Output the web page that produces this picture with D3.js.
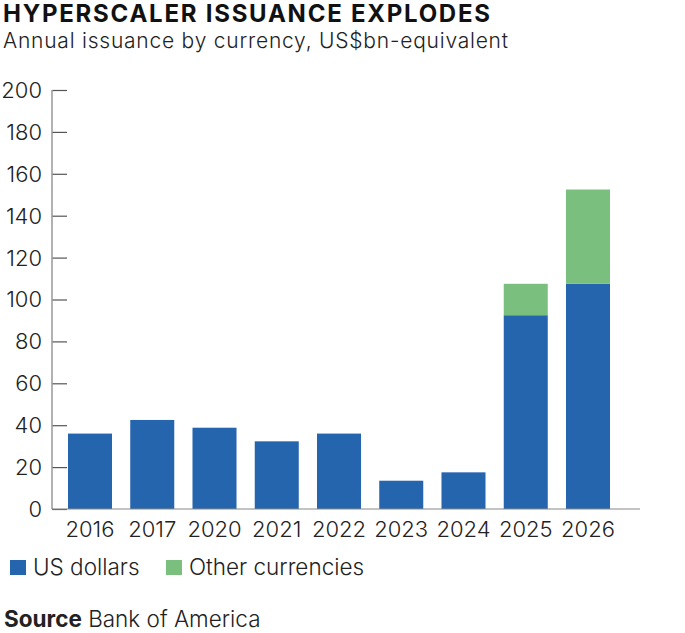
<!DOCTYPE html>
<html>
<head>
<meta charset="utf-8">
<script src="https://cdn.jsdelivr.net/npm/d3@7"></script>
<style>
  body { margin: 0; background: #fff; }
  svg { display: block; font-family: Inter, "Noto Sans", sans-serif; }
</style>
</head>
<body>
<svg id="chart"></svg>
<script>
// Data
const years = ['2016', '2017', '2020', '2021', '2022', '2023', '2024', '2025', '2026'];
const usDollars = [36, 42.5, 38.8, 32.3, 36, 13.5, 17.5, 92.5, 107.5];
const otherCurrencies = [0, 0, 0, 0, 0, 0, 0, 15, 45];
const yTicks = [0, 20, 40, 60, 80, 100, 120, 140, 160, 180, 200];
const seriesNames = ['US dollars', 'Other currencies'];

const width = 685, height = 633;
const colors = { 'US dollars': '#2565ae', 'Other currencies': '#7bbf7f' };

const svg = d3.select('#chart')
  .attr('width', width)
  .attr('height', height)
  .attr('viewBox', `0 0 ${width} ${height}`);

const rows = years.map((y, i) => ({
  year: y,
  'US dollars': usDollars[i],
  'Other currencies': otherCurrencies[i],
}));
const stacked = d3.stack().keys(seriesNames)(rows);

const axisX = 52, baseY = 509, topY = 90;

const x = d3.scaleBand()
  .domain(years)
  .range([axisX, 626])
  .paddingInner(0.293)
  .paddingOuter(0.257);

const y = d3.scaleLinear()
  .domain([0, 200])
  .range([baseY, topY]);

// Title + subtitle
svg.append('text')
  .attr('x', 3).attr('y', 22)
  .attr('font-size', 24).attr('font-weight', 700)
  .attr('textLength', 487).attr('lengthAdjust', 'spacing')
  .attr('fill', '#111')
  .text('HYPERSCALER ISSUANCE EXPLODES');

svg.append('text')
  .attr('x', 3).attr('y', 48)
  .attr('font-size', 21).attr('font-weight', 300)
  .attr('textLength', 505).attr('lengthAdjust', 'spacing')
  .attr('fill', '#222')
  .text('Annual issuance by currency, US$bn-equivalent');

// Y axis: ticks pointing inward
const yAxis = svg.append('g')
  .attr('transform', `translate(${axisX},0)`)
  .call(d3.axisRight(y).tickValues(yTicks).tickSize(15).tickFormat(''));
yAxis.select('.domain').remove();
yAxis.selectAll('line').attr('stroke', '#555').attr('stroke-width', 1.2);

svg.append('line')
  .attr('x1', axisX).attr('x2', axisX)
  .attr('y1', topY).attr('y2', baseY)
  .attr('stroke', '#999').attr('stroke-width', 1.5);

svg.append('g')
  .selectAll('text')
  .data(yTicks)
  .join('text')
  .attr('x', 42)
  .attr('y', d => y(d))
  .attr('dy', '0.36em')
  .attr('text-anchor', 'end')
  .attr('font-size', 22).attr('font-weight', 300)
  .attr('fill', '#222')
  .text(d => d);

// Bars
svg.append('g')
  .selectAll('g')
  .data(stacked)
  .join('g')
  .attr('fill', d => colors[d.key])
  .selectAll('rect')
  .data(d => d.filter(p => p[1] > p[0]))
  .join('rect')
  .attr('x', d => x(d.data.year))
  .attr('y', d => y(d[1]))
  .attr('width', x.bandwidth())
  .attr('height', d => y(d[0]) - y(d[1]));

// Baseline
svg.append('line')
  .attr('x1', axisX).attr('x2', 640)
  .attr('y1', baseY).attr('y2', baseY)
  .attr('stroke', '#888').attr('stroke-width', 1.2);

// X labels
svg.append('g')
  .selectAll('text')
  .data(years)
  .join('text')
  .attr('x', d => x(d) + x.bandwidth() / 2)
  .attr('y', 537)
  .attr('text-anchor', 'middle')
  .attr('font-size', 22).attr('font-weight', 300)
  .attr('fill', '#222')
  .text(d => d);

// Legend
const legendX = [10, 166];
const legend = svg.append('g')
  .selectAll('g')
  .data(seriesNames)
  .join('g')
  .attr('transform', (d, i) => `translate(${legendX[i]},560)`);
legend.append('rect')
  .attr('width', 16).attr('height', 15)
  .attr('fill', d => colors[d]);
legend.append('text')
  .attr('x', 23).attr('y', 15)
  .attr('font-size', 22.5).attr('font-weight', 300)
  .attr('fill', '#222')
  .text(d => d);

// Source
const src = svg.append('text')
  .attr('x', 4).attr('y', 627)
  .attr('font-size', 22.5).attr('fill', '#222');
src.append('tspan').attr('font-weight', 700).text('Source');
src.append('tspan').attr('font-weight', 300).text(' Bank of America');
</script>
</body>
</html>
